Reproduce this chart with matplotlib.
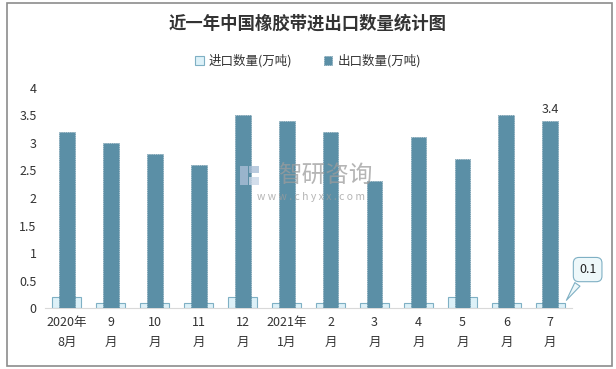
import matplotlib.pyplot as plt
import numpy as np
from matplotlib.patches import Rectangle

plt.rcParams['font.family'] = ['Noto Sans CJK SC', 'DejaVu Sans']

# Data
months = ['2020年\n8月', '9\n月', '10\n月', '11\n月', '12\n月', '2021年\n1月',
          '2\n月', '3\n月', '4\n月', '5\n月', '6\n月', '7\n月']
import_qty = [0.2, 0.1, 0.1, 0.1, 0.2, 0.1, 0.1, 0.1, 0.1, 0.2, 0.1, 0.1]
export_qty = [3.2, 3.0, 2.8, 2.6, 3.5, 3.4, 3.2, 2.3, 3.1, 2.7, 3.5, 3.4]
y_ticks = [0, 0.5, 1, 1.5, 2, 2.5, 3, 3.5, 4]

fig = plt.figure(figsize=(6.16, 3.69), dpi=100)
ax = fig.add_axes([0.073, 0.165, 0.856, 0.597])

x = np.arange(len(months))
ax.bar(x, import_qty, width=0.66, color='#DDF1F8', edgecolor='#7FB0C4',
       linewidth=0.8, label='进口数量(万吨)', zorder=2)
ax.bar(x, export_qty, width=0.36, color='#5B8FA6', edgecolor='#4E7F95',
       linewidth=0.5, linestyle=':', label='出口数量(万吨)', zorder=3)

ax.set_ylim(0, 4)
ax.set_xlim(-0.5, len(months) - 0.5)
ax.set_yticks(y_ticks)
ax.set_yticklabels([f'{v:g}' for v in y_ticks], fontsize=9, color='#333333')
ax.set_xticks(x)
ax.set_xticklabels(months, fontsize=9, color='#333333', linespacing=1.6)
ax.tick_params(axis='both', length=0, pad=6)
for side in ['top', 'right', 'left']:
    ax.spines[side].set_visible(False)
ax.spines['bottom'].set_color('#D9D9D9')

# Data labels on the last month
ax.text(x[-1], export_qty[-1] + 0.08, f'{export_qty[-1]:g}', ha='center',
        va='bottom', fontsize=9, color='#333333')
ax.annotate(f'{import_qty[-1]:g}', xy=(x[-1] + 0.33, import_qty[-1]),
            xytext=(x[-1] + 0.85, 0.7), ha='center', va='center', fontsize=9,
            color='#222222',
            bbox=dict(boxstyle='round,pad=0.45', fc='#EEF8FA', ec='#7FB0C4', lw=0.8),
            arrowprops=dict(arrowstyle='wedge,tail_width=0.5', fc='#EEF8FA',
                            ec='#7FB0C4', lw=0.8),
            annotation_clip=False, zorder=5)

# Title and legend
fig.text(0.5, 0.935, '近一年中国橡胶带进出口数量统计图', ha='center', va='center',
         fontsize=12.5, fontweight='bold', color='#333333')
ax.legend(loc='center', bbox_to_anchor=(0.5, 0.835), bbox_transform=fig.transFigure,
          ncol=2, frameon=False, fontsize=9, handlelength=0.7, handleheight=0.7,
          columnspacing=2.5, handletextpad=0.4, labelcolor='#333333')

# Watermark (drawn above the bars)
for (lx, ly, lw, lh, c) in [(0.390, 0.500, 0.012, 0.050, '#A9BED6'),
                            (0.404, 0.530, 0.016, 0.020, '#A9BED6'),
                            (0.404, 0.500, 0.016, 0.020, '#C9D6E6')]:
    fig.patches.append(Rectangle((lx, ly), lw, lh, transform=fig.transFigure,
                                 fc=c, ec='none', alpha=0.8, zorder=10))
fig.text(0.528, 0.522, '智研咨询', fontsize=17, color='#9C9C9C', alpha=0.75,
         ha='center', va='center', zorder=10)
fig.text(0.505, 0.466, 'w w w . c h y x x . c o m', fontsize=7.5, color='#9C9C9C',
         alpha=0.75, ha='center', va='center', zorder=10)

# Outer border
fig.patches.append(Rectangle((0.011, 0.008), 0.982, 0.984, transform=fig.transFigure,
                             fill=False, ec='#8C8C8C', lw=1.2))

fig.savefig('out.png', dpi=100)
